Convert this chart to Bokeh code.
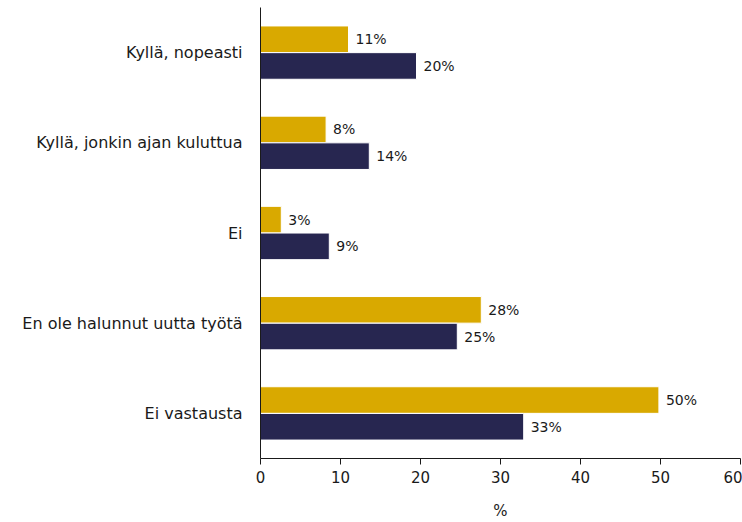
from bokeh.plotting import figure
from bokeh.models import ColumnDataSource, FactorRange, FixedTicker, Range1d
from bokeh.transform import dodge
from bokeh.embed import file_html
from bokeh.resources import INLINE

categories = ["Kyllä, nopeasti", "Kyllä, jonkin ajan kuluttua", "Ei",
              "En ole halunnut uutta työtä", "Ei vastausta"]
gold_values = [11.0, 8.2, 2.6, 27.6, 49.8]
navy_values = [19.5, 13.6, 8.6, 24.6, 32.9]
x_ticks = [0, 10, 20, 30, 40, 50, 60]
x_label = "%"

GOLD = "#D9A900"
NAVY = "#272650"
FONT = "DejaVu Sans"

def pct(v):
    return f"{int(v + 0.5)}%"

src = ColumnDataSource(dict(
    cat=categories,
    gold=gold_values,
    navy=navy_values,
    gold_lbl=[pct(v) for v in gold_values],
    navy_lbl=[pct(v) for v in navy_values],
))

p = figure(width=742, height=522, output_backend="svg", toolbar_location=None,
           y_range=FactorRange(factors=list(reversed(categories)), range_padding=0),
           x_range=Range1d(0, 60),
           min_border_left=260, min_border_right=2, min_border_top=7, min_border_bottom=10)

p.hbar(y=dodge("cat", 0.148, range=p.y_range), right="gold", left=0, height=0.295,
       source=src, fill_color=GOLD, line_color="white", line_width=1)
p.hbar(y=dodge("cat", -0.148, range=p.y_range), right="navy", left=0, height=0.295,
       source=src, fill_color=NAVY, line_color="white", line_width=1)

p.text(x="gold", y=dodge("cat", 0.148, range=p.y_range), text="gold_lbl", source=src,
       x_offset=7, text_baseline="middle", text_align="left",
       text_font_size="14px", text_color="#1a1a1a", text_font={"value": FONT})
p.text(x="navy", y=dodge("cat", -0.148, range=p.y_range), text="navy_lbl", source=src,
       x_offset=7, text_baseline="middle", text_align="left",
       text_font_size="14px", text_color="#1a1a1a", text_font={"value": FONT})

p.xgrid.visible = False
p.ygrid.visible = False
p.outline_line_color = None

xa = p.xaxis[0]
xa.ticker = FixedTicker(ticks=x_ticks)
xa.axis_label = x_label
xa.axis_label_text_font_style = "normal"
xa.axis_label_text_font = FONT
xa.axis_label_text_font_size = "15px"
xa.axis_label_text_color = "#1a1a1a"
xa.axis_label_standoff = 16
xa.major_label_text_font = FONT
xa.major_label_text_font_size = "15px"
xa.major_label_text_color = "#1a1a1a"
xa.major_label_standoff = 6
xa.major_tick_out = 6
xa.major_tick_in = 0
xa.minor_tick_out = 0
xa.minor_tick_in = 0
xa.axis_line_color = "#1a1a1a"
xa.major_tick_line_color = "#1a1a1a"

ya = p.yaxis[0]
ya.major_tick_out = 0
ya.major_tick_in = 0
ya.minor_tick_out = 0
ya.major_label_standoff = 18
ya.major_label_text_font = FONT
ya.major_label_text_font_size = "16px"
ya.major_label_text_color = "#1a1a1a"
ya.axis_line_color = "#1a1a1a"

open("out.html", "w").write(file_html(p, INLINE))
